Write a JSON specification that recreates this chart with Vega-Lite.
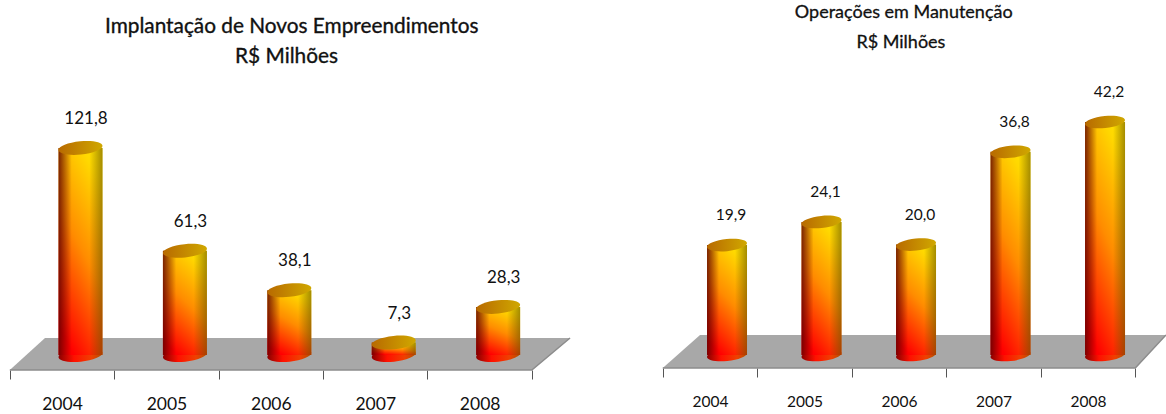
{
"$schema":"https://vega.github.io/schema/vega-lite/v6.json",
"padding":0,"spacing":0,"background":"white",
"config":{"view":{"stroke":null},"axis":{"grid":false}},
"datasets":{
"a":[{"year":2004,"value":121.8,"label":"121,8"},{"year":2005,"value":61.3,"label":"61,3"},{"year":2006,"value":38.1,"label":"38,1"},{"year":2007,"value":7.3,"label":"7,3"},{"year":2008,"value":28.3,"label":"28,3"}],
"b":[{"year":2004,"value":19.9,"label":"19,9"},{"year":2005,"value":24.1,"label":"24,1"},{"year":2006,"value":20.0,"label":"20,0"},{"year":2007,"value":36.8,"label":"36,8"},{"year":2008,"value":42.2,"label":"42,2"}],
"fa":[{"year":2003.5,"top":-8.82,"bottom":-8.82},{"year":2003.837,"top":10,"bottom":-8.82},{"year":2008.5,"top":10,"bottom":-8.82},{"year":2008.866,"top":10,"bottom":10}],
"fb":[{"year":2003.5,"top":-2.36,"bottom":-2.36},{"year":2003.894,"top":3.62,"bottom":-2.36},{"year":2008.5,"top":3.62,"bottom":-2.36},{"year":2008.825,"top":3.62,"bottom":3.62}],
"ta":[{"year":2006.2,"value":193,"title":"Implantação de Novos Empreendimentos"},{"year":2006.15,"value":175.5,"title":"R$ Milhões"}],
"tb":[{"year":2006.05,"value":62.0,"title":"Operações em Manutenção"},{"year":2006.02,"value":56.6,"title":"R$ Milhões"}]
},
"hconcat":[
{"width":583,"height":370,
"encoding":{"x":{"field":"year","type":"quantitative","scale":{"domain":[2003.406,2008.990],"nice":false,"zero":false,"padding":0},
"axis":{"title":null,"domain":false,"values":[2003.5,2004,2004.5,2005,2005.5,2006,2006.5,2007,2007.5,2008,2008.5],"labelExpr":"datum.value % 1 == 0 ? datum.value : ''","tickSize":9,"tickColor":"#555","tickOpacity":{"condition":{"test":"datum.value % 1 == 0","value":0},"value":1},"labelFont":"Lato","labelFontSize":17.5,"labelColor":"#111","labelPadding":16,"labelBaseline":"top","labelOverlap":false}}},
"layer":[
{"data":{"name":"fa"},"mark":{"type":"area","color":"#a8a8a8"},"encoding":{"y":{"field":"top","type":"quantitative","stack":null,"scale":{"domain":[-8.82,208.8],"nice":false,"zero":false},"axis":null},"y2":{"field":"bottom"}}},
{"data":{"name":"fa"},"mark":{"type":"line","color":"#8c8c8c","strokeWidth":1.5},"encoding":{"y":{"field":"bottom","type":"quantitative","axis":null}}},
{"data":{"name":"a"},"mark":{"type":"point","filled":true,"opacity":1,"xOffset":18.5,"shape":"M-1,0.1 A1,0.3,-6,1,1,1,-0.1 A1,0.3,-6,1,1,-1,0.1 Z","size":1936,"fill":{"gradient":"linear","x1":0,"y1":0.5,"x2":1,"y2":0.5,"stops":[{"offset":0,"color":"#8a0000"},{"offset":0.35,"color":"#ff1000"},{"offset":0.75,"color":"#f04000"},{"offset":1,"color":"#b05000"}]}},"encoding":{"y":{"datum":0,"type":"quantitative"}}},
{"data":{"name":"a"},"mark":{"type":"bar","size":44,"xOffset":18.5,"fill":{"gradient":"linear","x1":0.35,"y1":1,"x2":0.75,"y2":0,"stops":[{"offset":0,"color":"#ff0000"},{"offset":0.5,"color":"#ff8c00"},{"offset":0.92,"color":"#ffd800"},{"offset":1,"color":"#ffe000"}]}},"encoding":{"y":{"field":"value","type":"quantitative"},"y2":{"datum":0}}},
{"data":{"name":"a"},"mark":{"type":"bar","size":44,"xOffset":18.5,"fill":{"gradient":"linear","x1":0,"y1":0.5,"x2":1,"y2":0.5,"stops":[{"offset":0,"color":"rgba(90,0,0,0.8)"},{"offset":0.3,"color":"rgba(90,0,0,0)"},{"offset":0.7,"color":"rgba(90,60,0,0)"},{"offset":1,"color":"rgba(90,70,0,0.55)"}]}},"encoding":{"y":{"field":"value","type":"quantitative"},"y2":{"datum":0}}},
{"data":{"name":"a"},"mark":{"type":"point","filled":true,"opacity":1,"xOffset":18.5,"shape":"M-1,0.1 A1,0.3,-6,1,1,1,-0.1 A1,0.3,-6,1,1,-1,0.1 Z","size":1936,"fill":{"gradient":"linear","x1":0,"y1":0.5,"x2":1,"y2":0.5,"stops":[{"offset":0,"color":"#b86a00"},{"offset":1,"color":"#d0a800"}]}},"encoding":{"y":{"field":"value","type":"quantitative"}}},
{"data":{"name":"a"},"mark":{"type":"text","font":"Lato","fontSize":17,"color":"#111","dy":-29,"xOffset":24},"encoding":{"y":{"field":"value","type":"quantitative"},"text":{"field":"label"}}},
{"data":{"name":"ta"},"mark":{"type":"text","font":"Lato","fontSize":20.8,"color":"#111","stroke":"#111","strokeWidth":0.35},"encoding":{"y":{"field":"value","type":"quantitative"},"text":{"field":"title"}}}
]},
{"width":583,"height":368,
"encoding":{"x":{"field":"year","type":"quantitative","scale":{"domain":[2002.656,2008.825],"nice":false,"zero":false,"padding":0},
"axis":{"title":null,"domain":false,"values":[2003.5,2004,2004.5,2005,2005.5,2006,2006.5,2007,2007.5,2008,2008.5],"labelExpr":"datum.value % 1 == 0 ? datum.value : ''","tickSize":9,"tickColor":"#555","tickOpacity":{"condition":{"test":"datum.value % 1 == 0","value":0},"value":1},"labelFont":"Lato","labelFontSize":15.5,"labelColor":"#111","labelPadding":17,"labelBaseline":"top","labelOverlap":false}}},
"layer":[
{"data":{"name":"fb"},"mark":{"type":"area","color":"#a8a8a8"},"encoding":{"y":{"field":"top","type":"quantitative","stack":null,"scale":{"domain":[-2.36,64.3],"nice":false,"zero":false},"axis":null},"y2":{"field":"bottom"}}},
{"data":{"name":"fb"},"mark":{"type":"line","color":"#8c8c8c","strokeWidth":1.5},"encoding":{"y":{"field":"bottom","type":"quantitative","axis":null}}},
{"data":{"name":"b"},"mark":{"type":"point","filled":true,"opacity":1,"xOffset":17,"shape":"M-1,0.1 A1,0.3,-6,1,1,1,-0.1 A1,0.3,-6,1,1,-1,0.1 Z","size":1600,"fill":{"gradient":"linear","x1":0,"y1":0.5,"x2":1,"y2":0.5,"stops":[{"offset":0,"color":"#8a0000"},{"offset":0.35,"color":"#ff1000"},{"offset":0.75,"color":"#f04000"},{"offset":1,"color":"#b05000"}]}},"encoding":{"y":{"datum":0,"type":"quantitative"}}},
{"data":{"name":"b"},"mark":{"type":"bar","size":40,"xOffset":17,"fill":{"gradient":"linear","x1":0.35,"y1":1,"x2":0.75,"y2":0,"stops":[{"offset":0,"color":"#ff0000"},{"offset":0.5,"color":"#ff8c00"},{"offset":0.92,"color":"#ffd800"},{"offset":1,"color":"#ffe000"}]}},"encoding":{"y":{"field":"value","type":"quantitative"},"y2":{"datum":0}}},
{"data":{"name":"b"},"mark":{"type":"bar","size":40,"xOffset":17,"fill":{"gradient":"linear","x1":0,"y1":0.5,"x2":1,"y2":0.5,"stops":[{"offset":0,"color":"rgba(90,0,0,0.8)"},{"offset":0.3,"color":"rgba(90,0,0,0)"},{"offset":0.7,"color":"rgba(90,60,0,0)"},{"offset":1,"color":"rgba(90,70,0,0.55)"}]}},"encoding":{"y":{"field":"value","type":"quantitative"},"y2":{"datum":0}}},
{"data":{"name":"b"},"mark":{"type":"point","filled":true,"opacity":1,"xOffset":17,"shape":"M-1,0.1 A1,0.3,-6,1,1,1,-0.1 A1,0.3,-6,1,1,-1,0.1 Z","size":1600,"fill":{"gradient":"linear","x1":0,"y1":0.5,"x2":1,"y2":0.5,"stops":[{"offset":0,"color":"#b86a00"},{"offset":1,"color":"#d0a800"}]}},"encoding":{"y":{"field":"value","type":"quantitative"}}},
{"data":{"name":"b"},"mark":{"type":"text","font":"Lato","fontSize":15.5,"color":"#111","dy":-30,"xOffset":21},"encoding":{"y":{"field":"value","type":"quantitative"},"text":{"field":"label"}}},
{"data":{"name":"tb"},"mark":{"type":"text","font":"Lato","fontSize":18,"color":"#111","stroke":"#111","strokeWidth":0.3},"encoding":{"y":{"field":"value","type":"quantitative"},"text":{"field":"title"}}}
]}
]
}
